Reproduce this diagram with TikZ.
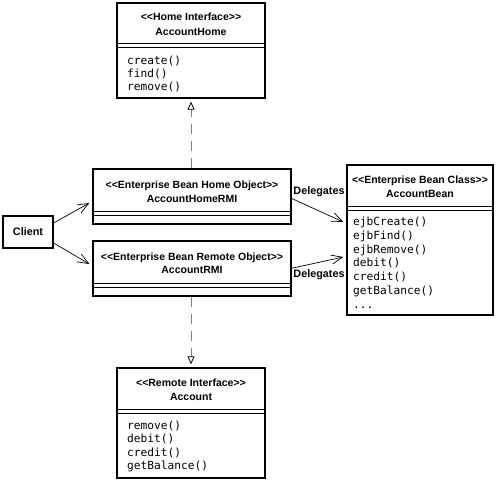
\documentclass[tikz,border=0pt]{standalone}
\usepackage{fontspec}
\setmainfont{Liberation Sans}[Ligatures=TeXOff]
\newfontfamily\methfont{DejaVu Sans Mono}
\usetikzlibrary{arrows.meta,calc}
\tikzset{
  classbox/.style={draw, line width=1.3pt, inner sep=0pt, fill=none},
  hdr/.style={font=\fontsize{10.5}{12}\bfseries\selectfont, anchor=base, inner sep=0pt},
  meth/.style={font=\fontsize{11.2}{12}\methfont\selectfont, anchor=base west, inner sep=0pt},
  sepline/.style={line width=0.8pt},
  assoc/.style={line width=0.7pt, -{Straight Barb[length=11pt,width=9pt,line width=0.7pt]}},
  realize/.style={line width=1pt, draw=black!50, dash pattern=on 10pt off 7pt,
     -{Triangle[open,length=8pt,width=7pt,line width=0.8pt,color=black]}, shorten >=3pt},
  lbl/.style={font=\fontsize{10.8}{12}\bfseries\selectfont, inner sep=0pt}
}
\begin{document}
\begin{tikzpicture}[x=1pt,y=-1pt]
\useasboundingbox (0,0) rectangle (500,482);
% AccountHome
\node[classbox, minimum width=148pt, minimum height=95pt] (home) at (191,50.5) {};
\node[hdr] (homeS) at (191,20) {<<Home Interface>>};
\node[hdr] (homeN) at (191,35) {AccountHome};
\draw[sepline] (home.west |- 0,43) -- (home.east |- 0,43);
\draw[sepline] (home.west |- 0,47.5) -- (home.east |- 0,47.5);
\foreach \t [count=\i] in {create(),find(),remove()}
  \node[meth] (homeM\i) at (127,{64.5+13.2*(\i-1)}) {\t};
% AccountHomeRMI
\node[classbox, minimum width=198pt, minimum height=55pt] (homermi) at (192,196.5) {};
\node[hdr] (homermiS) at (192,188) {<<Enterprise Bean Home Object>>};
\node[hdr] (homermiN) at (192,202) {AccountHomeRMI};
\draw[sepline] (homermi.west |- 0,211) -- (homermi.east |- 0,211);
\draw[sepline] (homermi.west |- 0,215) -- (homermi.east |- 0,215);
% AccountRMI
\node[classbox, minimum width=198pt, minimum height=55pt] (rmi) at (192,268.5) {};
\node[hdr] (rmiS) at (192,260) {<<Enterprise Bean Remote Object>>};
\node[hdr] (rmiN) at (192,273) {AccountRMI};
\draw[sepline] (rmi.west |- 0,283) -- (rmi.east |- 0,283);
\draw[sepline] (rmi.west |- 0,287) -- (rmi.east |- 0,287);
% Client
\node[classbox, minimum width=50pt, minimum height=32pt, font=\fontsize{10.8}{12}\bfseries\selectfont] (client) at (28,232) {Client};
% AccountBean
\node[classbox, minimum width=146pt, minimum height=150pt] (bean) at (420,240) {};
\node[hdr] (beanS) at (420,183) {<<Enterprise Bean Class>>};
\node[hdr] (beanN) at (420,197) {AccountBean};
\draw[sepline] (bean.west |- 0,206.5) -- (bean.east |- 0,206.5);
\draw[sepline] (bean.west |- 0,210.5) -- (bean.east |- 0,210.5);
\foreach \t [count=\i] in {ejbCreate(),ejbFind(),ejbRemove(),debit(),credit(),getBalance()}
  \node[meth] (beanM\i) at (353,{225.5+13.8*(\i-1)}) {\t};
\node[meth] (beanM7) at (353,{225.5+13.8*6}) {...};
% Account
\node[classbox, minimum width=148pt, minimum height=110pt] (acct) at (191,423) {};
\node[hdr] (acctS) at (191,386) {<<Remote Interface>>};
\node[hdr] (acctN) at (191,400) {Account};
\draw[sepline] (acct.west |- 0,409) -- (acct.east |- 0,409);
\draw[sepline] (acct.west |- 0,413) -- (acct.east |- 0,413);
\foreach \t [count=\i] in {remove(),debit(),credit(),getBalance()}
  \node[meth] (acctM\i) at (127,{429.5+13.3*(\i-1)}) {\t};
% connectors
\draw[assoc] ([yshift=9pt]client.east) -- ([xshift=-3pt,yshift=-6.5pt]homermi.west);
\draw[assoc] ([yshift=-11pt]client.east) -- ([xshift=-3pt,yshift=4.5pt]rmi.west);
\draw[assoc] ([xshift=-1pt,yshift=-1.5pt]homermi.east) -- ([xshift=-3pt,yshift=18pt]bean.west);
\draw[assoc] ([xshift=-1pt]rmi.east) -- ([xshift=-3pt,yshift=-17pt]bean.west);
\node[lbl] (del1) at (319,192) {Delegates};
\node[lbl] (del2) at (319,275) {Delegates};
\draw[realize] (homermi.north -| home.south) -- (home.south);
\draw[realize] (rmi.south -| acct.north) -- (acct.north);
\end{tikzpicture}
\end{document}
